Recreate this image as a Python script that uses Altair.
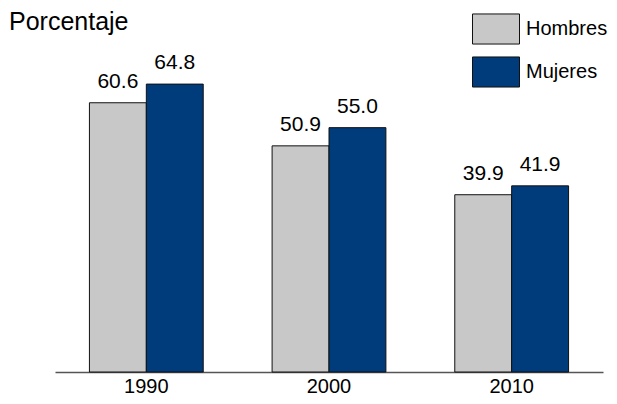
import altair as alt
import pandas as pd

years = ["1990", "2000", "2010"]
hombres = [60.6, 50.9, 39.9]
mujeres = [64.8, 55.0, 41.9]
series = ["Hombres", "Mujeres"]
colors = ["#C8C8C8", "#003B7C"]

rows = []
for i, y in enumerate(years):
    rows.append({"year": y, "sexo": "Hombres", "valor": hombres[i]})
    rows.append({"year": y, "sexo": "Mujeres", "valor": mujeres[i]})
df = pd.DataFrame(rows)
df["label"] = df["valor"].map(lambda v: f"{v:.1f}")

FONT = "Liberation Sans"

x = alt.X("year:N", title=None,
          scale=alt.Scale(paddingInner=0.377, paddingOuter=0.1885),
          axis=alt.Axis(labelAngle=0, ticks=False, domainColor="#555555", domainWidth=1.5,
                        labelFontSize=20, labelFont=FONT, labelColor="#000000", labelPadding=4))
xoff = alt.XOffset("sexo:N", sort=series, scale=alt.Scale(paddingInner=0, paddingOuter=0))
y = alt.Y("valor:Q", scale=alt.Scale(domain=[0, 70], nice=False), axis=None)

bars = alt.Chart(df).mark_bar(stroke="#111111", strokeWidth=1).encode(
    x=x, xOffset=xoff, y=y,
    color=alt.Color("sexo:N", sort=series,
                    scale=alt.Scale(domain=series, range=colors),
                    legend=alt.Legend(title=None, orient="none", legendX=417, legendY=-56,
                                      symbolType="M-1,-0.64L1,-0.64L1,0.64L-1,0.64Z",
                                      symbolSize=2209, symbolStrokeColor="#111111",
                                      symbolStrokeWidth=1, symbolOpacity=1,
                                      labelFontSize=20, labelFont=FONT, labelColor="#000000",
                                      labelOffset=6, rowPadding=1, padding=0)),
)

labels = alt.Chart(df).mark_text(baseline="alphabetic", dy=-15, fontSize=21, font=FONT,
                                 color="#000000").encode(
    x=x, xOffset=xoff, y=y, text="label:N"
)

ytitle = ["Porcentaje"]
title_mark = alt.Chart(pd.DataFrame({"t": ytitle})).mark_text(
    align="left", baseline="alphabetic", fontSize=25, font=FONT, color="#000000"
).encode(x=alt.value(-46), y=alt.value(-31), text="t:N")

chart = alt.layer(bars, labels, title_mark).properties(
    width=548, height=311,
    autosize=alt.AutoSizeParams(type="none"),
    padding={"left": 47, "top": 53, "right": 6, "bottom": 24},
).configure_view(stroke=None)

chart.save("out.html", embed_options={"renderer": "svg", "actions": False})
